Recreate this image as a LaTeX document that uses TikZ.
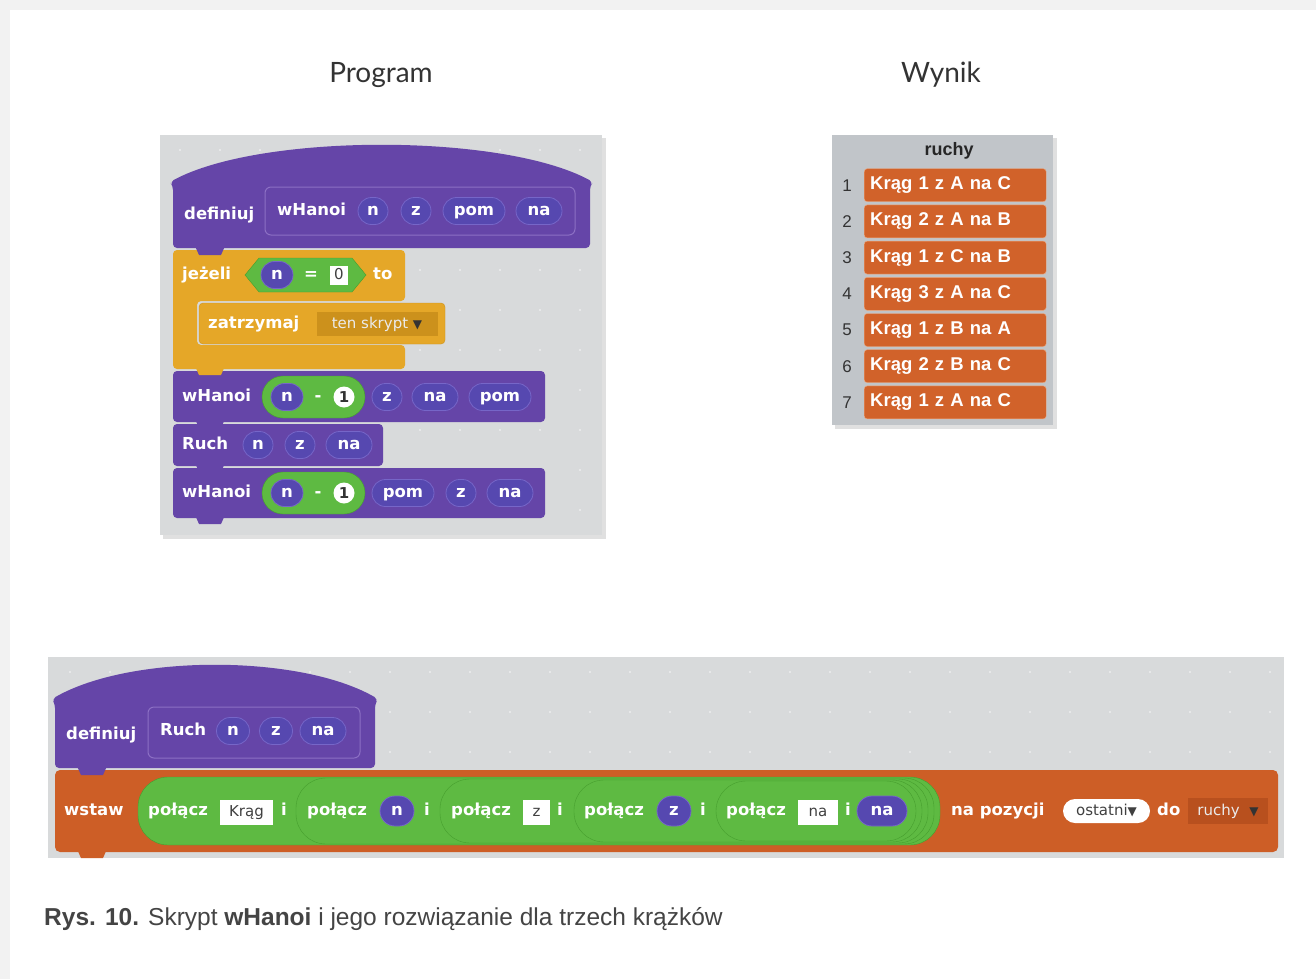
\documentclass[tikz,border=0pt]{standalone}
\usepackage{fontspec}
\setmainfont{Liberation Sans}
\newfontfamily\blockfont{DejaVu Sans}
\newfontfamily\headfont{Lato}
\usetikzlibrary{positioning}
\definecolor{panel}{RGB}{216,218,219}
\definecolor{custom}{RGB}{101,69,168}
\definecolor{protorim}{RGB}{140,112,196}
\definecolor{param}{RGB}{86,72,176}
\definecolor{paramrim}{RGB}{118,102,200}
\definecolor{ctrl}{RGB}{229,167,40}
\definecolor{ctrldark}{RGB}{204,145,28}
\definecolor{oper}{RGB}{94,186,66}
\definecolor{operdark}{RGB}{70,158,46}
\definecolor{lst}{RGB}{205,94,38}
\definecolor{lstdark}{RGB}{184,80,30}
\definecolor{listbg}{RGB}{193,197,201}
\definecolor{rowfill}{RGB}{209,98,42}
\definecolor{rowrim}{RGB}{236,170,130}
\definecolor{capt}{RGB}{68,68,68}
% small tab under a stacked block
\newcommand{\blocktab}[3]{\fill[#3] (#1,#2-4) -- (#1+4,#2+5) -- (#1+26,#2+5) -- (#1+30,#2-4) -- cycle;}
\begin{document}
\begin{tikzpicture}[x=1pt,y=-1pt,
    blk/.style={text=white,font=\blockfont\bfseries\fontsize{16.5}{18}\selectfont,inner sep=0pt,text height=12pt,text depth=3pt},
    prm/.style={blk,fill=param,draw=paramrim,line width=.8pt,rounded corners=13.5pt,minimum height=27pt,text height=10pt,text depth=1pt},
    slot/.style={fill=white,text=black!75,font=\blockfont\fontsize{15}{17}\selectfont,inner sep=0pt,minimum height=25pt,text height=11pt,text depth=3pt},
    menu/.style={text=white!92!black,font=\blockfont\fontsize{15}{17}\selectfont,inner sep=0pt,minimum height=24pt,text height=11pt,text depth=3pt},
    row/.style={fill=rowfill,draw=rowrim,rounded corners=3pt,minimum height=33pt,text width=170pt,inner xsep=6pt,align=left,text=white,font=\bfseries\fontsize{18.5}{20}\selectfont},
    num/.style={text=black!80,font=\fontsize{17}{20}\selectfont},
    head/.style={text=black!80,font=\headfont\fontsize{28}{32}\selectfont}]
\useasboundingbox (0,0) rectangle (1316,979);
\fill[black!5] (0,0) rectangle (1316,979);
\fill[white] (10,10) rectangle (1316,979);
\node[head] (prog) at (381,75) {Program};
\node[head] (wynik) at (941,75) {Wynik};

% program panel
\fill[black!12] (163,138) rectangle (606,539);
\fill[panel] (160,135) rectangle (602,535);
\foreach \x in {180,220,...,580} \foreach \y in {150,190,...,530} \fill[white!55!panel] (\x,\y) circle (1.2pt);
\fill[custom,rounded corners=4pt] (173,248) -- (173,186) -- (170,182) .. controls (260,133) and (503,133) .. (593,182) -- (590,186) -- (590,248) -- cycle;
\draw[protorim,line width=1pt,rounded corners=6pt] (265,187) rectangle (575,235);
\node[blk,anchor=west] (def1) at (184,215) {definiuj};
\node[blk,anchor=west] (name1) at (277,211) {wHanoi};
\node[prm,minimum width=30pt] (d1n) at (373,211) {n};
\node[prm,minimum width=30pt] (d1z) at (416,211) {z};
\node[prm,minimum width=62pt] (d1pom) at (474,211) {pom};
\node[prm,minimum width=46pt] (d1na) at (539,211) {na};
% if block
\fill[ctrl,rounded corners=4pt] (173,250) -- (405,250) -- (405,301) -- (197,301) -- (197,345) -- (405,345) -- (405,369) -- (173,369) -- cycle;
\node[blk,anchor=west] (jezeli) at (182,275) {jeżeli};
\fill[oper,draw=operdark] (245,275) -- (259,258) -- (352,258) -- (366,275) -- (352,292) -- (259,292) -- cycle;
\node[prm,minimum width=32pt] (cn) at (277,275) {n};
\node[blk] (eq) at (311,275) {=};
\node[slot,minimum width=18pt,minimum height=19pt] (zero) at (339,275) {0};
\node[blk,anchor=west] (to) at (373,275) {to};
\fill[ctrl,draw=ctrldark,rounded corners=4pt] (199,303) rectangle (445,344);
\node[blk,anchor=west] (stop) at (208,324) {zatrzymaj};
\node[menu,fill=ctrldark,minimum width=121pt] (stopmenu) at (377,324) {ten skrypt\ {\color{black!80}\fontsize{12}{12}\selectfont▼}};
% recursive calls
\fill[custom,rounded corners=4pt] (173,371) rectangle (545,422);
\node[blk,anchor=west] (call1) at (182,397) {wHanoi};
\fill[oper,draw=operdark,rounded corners=21pt] (262,376) rectangle (365,418);
\node[prm,minimum width=32pt] (c1n) at (287,397) {n};
\node[blk] (c1m) at (318,397) {-};
\node[circle,fill=white,inner sep=0pt,minimum size=21pt,text=black!80,font=\blockfont\bfseries\fontsize{15}{17}\selectfont] (c1one) at (344,397) {1};
\node[prm,minimum width=30pt] (c1z) at (387,397) {z};
\node[prm,minimum width=46pt] (c1na) at (435,397) {na};
\node[prm,minimum width=62pt] (c1pom) at (500,397) {pom};
\fill[custom,rounded corners=4pt] (173,424) rectangle (383,466);
\node[blk,anchor=west] (ruch1) at (182,445) {Ruch};
\node[prm,minimum width=30pt] (r1n) at (258,445) {n};
\node[prm,minimum width=30pt] (r1z) at (300,445) {z};
\node[prm,minimum width=46pt] (r1na) at (349,445) {na};
\fill[custom,rounded corners=4pt] (173,468) rectangle (545,518);
\node[blk,anchor=west] (call2) at (182,493) {wHanoi};
\fill[oper,draw=operdark,rounded corners=21pt] (262,472) rectangle (365,514);
\node[prm,minimum width=32pt] (c2n) at (287,493) {n};
\node[blk] (c2m) at (318,493) {-};
\node[circle,fill=white,inner sep=0pt,minimum size=21pt,text=black!80,font=\blockfont\bfseries\fontsize{15}{17}\selectfont] (c2one) at (344,493) {1};
\node[prm,minimum width=62pt] (c2pom) at (403,493) {pom};
\node[prm,minimum width=30pt] (c2z) at (461,493) {z};
\node[prm,minimum width=46pt] (c2na) at (510,493) {na};
\blocktab{195}{250}{custom}
\blocktab{195}{370}{ctrl}
\blocktab{195}{423}{custom}
\blocktab{195}{467}{custom}
\blocktab{195}{519}{custom}

% result list
\fill[black!12] (835,138) rectangle (1057,429);
\fill[listbg] (832,135) rectangle (1053,425);
\node[text=black!85,font=\bfseries\fontsize{18}{20}\selectfont] (listname) at (949,151) {ruchy};
\foreach \t [count=\i] in {Krąg 1 z A na C,Krąg 2 z A na B,Krąg 1 z C na B,Krąg 3 z A na C,Krąg 1 z B na A,Krąg 2 z B na C,Krąg 1 z A na C} {
  \pgfmathsetmacro{\y}{149+36.2*\i}
  \node[num] (idx\i) at (847,\y) {\i};
  \node[row,anchor=west] (move\i) at (864,\y) {\t};
}

% second script
\fill[panel] (48,657) rectangle (1284,858);
\foreach \x in {70,110,...,1270} \foreach \y in {672,712,...,852} \fill[white!55!panel] (\x,\y) circle (1.2pt);
\fill[custom,rounded corners=4pt] (55,768) -- (55,704) -- (52,699) .. controls (130,654) and (300,654) .. (378,699) -- (375,704) -- (375,768) -- cycle;
\draw[protorim,line width=1pt,rounded corners=6pt] (148,707) rectangle (360,758);
\node[blk,anchor=west] (def2) at (66,735) {definiuj};
\node[blk,anchor=west] (name2) at (160,731) {Ruch};
\node[prm,minimum width=33pt] (d2n) at (233,731) {n};
\node[prm,minimum width=33pt] (d2z) at (276,731) {z};
\node[prm,minimum width=46pt] (d2na) at (323,731) {na};
\fill[lst,rounded corners=5pt] (55,770) rectangle (1278,852);
\node[blk,anchor=west] (wstaw) at (64,811) {wstaw};
\foreach \s [count=\k] in {138,296,440,574,716}
  \fill[oper,draw=operdark,rounded corners=30pt] (\s,776+\k) rectangle (946-6*\k,846-\k);
\node[blk,anchor=west] (join1) at (148,811) {połącz};
\node[slot,minimum width=53pt] (krag) at (246.5,812) {Krąg};
\node[blk] (and1) at (284,811) {i};
\node[blk,anchor=west] (join2) at (307,811) {połącz};
\node[prm,minimum width=34pt,minimum height=30pt,rounded corners=15pt] (jn) at (397,811) {n};
\node[blk] (and2) at (427,811) {i};
\node[blk,anchor=west] (join3) at (451,811) {połącz};
\node[slot,minimum width=27pt] (zbox) at (536.5,812) {z};
\node[blk] (and3) at (560,811) {i};
\node[blk,anchor=west] (join4) at (584,811) {połącz};
\node[prm,minimum width=34pt,minimum height=30pt,rounded corners=15pt] (jz) at (674,811) {z};
\node[blk] (and4) at (703,811) {i};
\node[blk,anchor=west] (join5) at (726,811) {połącz};
\node[slot,minimum width=40pt] (nabox) at (818,812) {na};
\node[blk] (and5) at (848,811) {i};
\node[prm,minimum width=50pt,minimum height=30pt,rounded corners=15pt] (jna) at (882,811) {na};
\node[blk,anchor=west] (pos) at (951,811) {na\ pozycji};
\node[slot,rounded corners=12pt,minimum width=87pt,minimum height=24pt] (last) at (1106.5,811) {ostatni{\color{black!75}\fontsize{12}{12}\selectfont▼}};
\node[blk,anchor=west] (to2) at (1157,811) {do};
\node[menu,fill=lstdark,minimum width=80pt,minimum height=26pt] (listmenu) at (1228,811) {ruchy\ \ {\color{black!80}\fontsize{12}{12}\selectfont▼}};
\blocktab{77}{770}{custom}
\blocktab{77}{853}{lst}

% caption
\node[anchor=base west,text=capt,font=\fontsize{24.5}{28}\selectfont,inner sep=0pt] (caption) at (44,925) {\textbf{Rys. 10.} Skrypt \textbf{wHanoi} i jego rozwiązanie dla trzech krążków};
\end{tikzpicture}
\end{document}
